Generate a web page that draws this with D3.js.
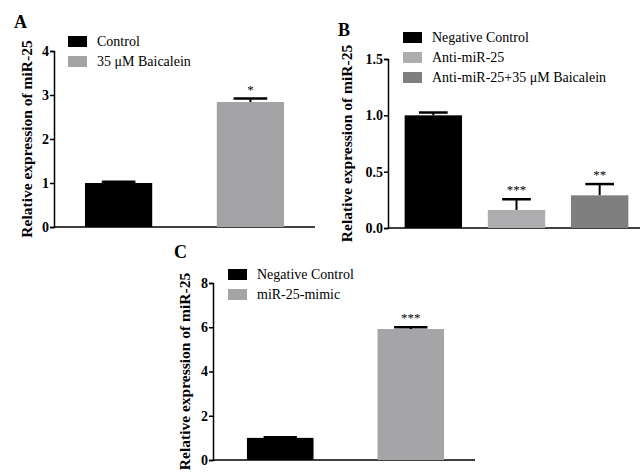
<!DOCTYPE html>
<html><head><meta charset="utf-8">
<script src="https://cdn.jsdelivr.net/npm/d3@7"></script>
<style>body{margin:0;background:#fff}svg{display:block}svg text{font-family:"Times New Roman","Liberation Serif",Tinos,"DejaVu Serif",serif !important}</style>
</head><body><svg id="c" width="640" height="473"></svg>
<script>
// Panel A
const catsA = ["Control", "35 μM Baicalein"];
const valsA = [1.0, 2.84];
const errA = [0.03, 0.08];
const sigA = ["", "*"];
const ticksA = [0, 1, 2, 3, 4];
// Panel B
const catsB = ["Negative Control", "Anti-miR-25", "Anti-miR-25+35 μM Baicalein"];
const valsB = [1.0, 0.16, 0.29];
const errB = [0.025, 0.095, 0.10];
const sigB = ["", "***", "**"];
const ticksB = [0, 0.5, 1.0, 1.5];
// Panel C
const catsC = ["Negative Control", "miR-25-mimic"];
const valsC = [1.0, 5.92];
const errC = [0.03, 0.08];
const sigC = ["", "***"];
const ticksC = [0, 2, 4, 6, 8];

const colA = ["#000000", "#a3a3a5"];
const colB = ["#000000", "#adadaf", "#7f7f7f"];
const colC = ["#000000", "#a5a5a7"];

const svg = d3.select("#c");

function panel(o) {
  const g = svg.append("g");
  const y = d3.scaleLinear().domain([0, o.max]).range([o.y0, o.y1]);
  const x = d3.scaleBand().domain(o.cats).range([o.ax, o.xr]).paddingInner(o.pi).paddingOuter(o.po);
  const ya = d3.axisLeft(y).tickValues(o.ticks).tickFormat(o.fmt).tickSize(4).tickPadding(1);
  const yg = g.append("g").attr("transform", `translate(${o.ax},0)`).call(ya);
  yg.attr("font-family", null);
  yg.select(".domain").attr("stroke", "#000").attr("stroke-width", 1.5);
  yg.selectAll(".tick line").attr("stroke", "#000").attr("stroke-width", 1.5);
  yg.selectAll(".tick text").attr("font-weight", "bold").attr("font-size", 14).attr("fill", "#000");
  g.append("line").attr("x1", o.ax).attr("x2", o.xend).attr("y1", o.y0).attr("y2", o.y0).attr("stroke", "#000").attr("stroke-width", 1.5);
  o.cats.forEach((c, i) => {
    const cx = x(c) + x.bandwidth() / 2;
    const top = y(o.vals[i] + o.err[i]);
    g.append("line").attr("x1", cx).attr("x2", cx).attr("y1", y(o.vals[i])).attr("y2", top).attr("stroke", "#000").attr("stroke-width", 2);
    g.append("line").attr("x1", cx - x.bandwidth() / 4).attr("x2", cx + x.bandwidth() / 4).attr("y1", top).attr("y2", top).attr("stroke", "#000").attr("stroke-width", 2.5);
    if (o.sig[i]) g.append("text").attr("x", cx).attr("y", top - 5).attr("text-anchor", "middle").attr("font-size", 13).text(o.sig[i]);
  });
  g.selectAll("rect.bar").data(o.cats).enter().append("rect").attr("class", "bar")
    .attr("x", d => x(d)).attr("width", x.bandwidth())
    .attr("y", (d, i) => y(o.vals[i])).attr("height", (d, i) => o.y0 - y(o.vals[i]))
    .attr("fill", (d, i) => o.cols[i]);
  g.append("text").attr("transform", `translate(${o.lx},${(o.y0 + o.y1) / 2}) rotate(-90)`)
    .attr("text-anchor", "middle").attr("dy", "0.35em").attr("font-weight", "bold").attr("font-size", 15.5)
    .text("Relative expression of miR-25");
  g.append("text").attr("x", o.letX).attr("y", o.letY).attr("font-weight", "bold").attr("font-size", 18).text(o.letter);
  o.cats.forEach((c, i) => {
    const ly = o.legY + i * o.legStep;
    g.append("rect").attr("x", o.legX).attr("y", ly).attr("width", 19).attr("height", 11).attr("fill", o.cols[i]);
    g.append("text").attr("x", o.legX + 29).attr("y", ly + 10).attr("font-size", 14).text(c);
  });
}

panel({cats: catsA, vals: valsA, err: errA, sig: sigA, ticks: ticksA, cols: colA, max: 4,
  fmt: d3.format("d"), y0: 227, y1: 51, ax: 54, xr: 315, xend: 315, pi: 0.49, po: 0.235,
  lx: 27, letter: "A", letX: 14, letY: 28, legX: 68, legY: 36, legStep: 20});
panel({cats: catsB, vals: valsB, err: errB, sig: sigB, ticks: ticksB, cols: colB, max: 1.5,
  fmt: d3.format(".1f"), y0: 228, y1: 59, ax: 388, xr: 645, xend: 640, pi: 0.31, po: 0.2,
  lx: 347, letter: "B", letX: 338, letY: 36, legX: 403, legY: 32, legStep: 20});
panel({cats: catsC, vals: valsC, err: errC, sig: sigC, ticks: ticksC, cols: colC, max: 8,
  fmt: d3.format("d"), y0: 460, y1: 283, ax: 213, xr: 478, xend: 475, pi: 0.49, po: 0.26,
  lx: 185, letter: "C", letX: 174, letY: 258, legX: 228, legY: 269, legStep: 20});
</script></body></html>
